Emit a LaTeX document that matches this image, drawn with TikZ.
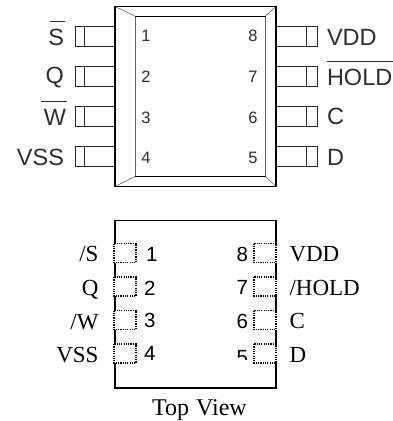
\documentclass[tikz,border=0pt]{standalone}
\usepackage{fontspec}
\setmainfont{Liberation Serif}
\newfontfamily\pinsans{Liberation Sans}
\definecolor{inkgray}{gray}{0.18}
\tikzset{
  lab/.style={inner sep=0pt,outer sep=0pt,text=inkgray,font=\pinsans\fontsize{23.5}{24}\selectfont},
  pinnum/.style={inner sep=0pt,outer sep=0pt,text=inkgray,font=\pinsans\fontsize{16.5}{18}\selectfont},
  serlab/.style={inner sep=0pt,outer sep=0pt,text=black,font=\fontsize{23}{24}\selectfont},
  botnum/.style={inner sep=0pt,outer sep=0pt,text=black,font=\pinsans\fontsize{20.5}{22}\selectfont},
  pinbox/.style={draw=black!85,line width=0.8pt},
  bodyline/.style={draw=black,line width=1.5pt},
  innerdark/.style={draw=black,line width=1pt},
  innergray/.style={draw=black!60,line width=1pt},
  bevel/.style={draw=black!65,line width=0.5pt},
  over/.style={draw=inkgray,line width=1pt},
  dotbox/.style={draw=black,line width=1.2pt,dash pattern=on 1.2pt off 1.1pt},
  chipbody/.style={draw=black,line width=1.5pt}
}
\begin{document}
\begin{tikzpicture}[x=1pt,y=-1pt]
\useasboundingbox[fill=white] (0,0) rectangle (393,421);
% top package pins
\foreach \y in {26.5,66.5,106.5,146.5}{
  \draw[pinbox] (115,\y) -- (75,\y) -- (75,\y+19.5) -- (115,\y+19.5);
  \draw[pinbox] (84.5,\y) -- (84.5,\y+19.5);
  \draw[pinbox] (276,\y) -- (317,\y) -- (317,\y+19.5) -- (276,\y+19.5);
  \draw[pinbox] (306,\y) -- (306,\y+19.5);
}
% package body
\coordinate (oa) at (115,6.5); \coordinate (ob) at (276,6.5);
\coordinate (oc) at (276,186.5); \coordinate (od) at (115,186.5);
\coordinate (ia) at (135,16); \coordinate (ib) at (265.5,16);
\coordinate (ic) at (265.5,176.5); \coordinate (id) at (135,176.5);
\draw[bevel] (oa)--(ia) (ob)--(ib) (oc)--(ic) (od)--(id);
\draw[innergray] (ia)--(id) (ib)--(ic);
\draw[innerdark] (ia)--(ib) (id)--(ic);
\draw[bodyline] (oa) rectangle (oc);
% top labels
\node[lab,anchor=base east] (ls) at (64,45.5) {S};
\node[lab,anchor=base east] (lq) at (64,83.5) {Q};
\node[lab,anchor=base east] (lw) at (66,125.5) {W};
\node[lab,anchor=base east] (lv) at (64,165) {VSS};
\node[lab,anchor=base west] (rv) at (327,45.5) {VDD};
\node[lab,anchor=base west] (rh) at (327,85.5) {HOLD};
\node[lab,anchor=base west] (rc) at (327,124) {C};
\node[lab,anchor=base west] (rd) at (327,165.5) {D};
\draw[over] (50,21) -- (65,21);
\draw[over] (41,101) -- (67,101);
\draw[over] (327,61) -- (393,61);
\node[pinnum,anchor=base] (n1) at (146,41) {1};
\node[pinnum,anchor=base] (n2) at (146,82) {2};
\node[pinnum,anchor=base] (n3) at (146,123.5) {3};
\node[pinnum,anchor=base] (n4) at (146,163.5) {4};
\node[pinnum,anchor=base] (n8) at (253,41) {8};
\node[pinnum,anchor=base] (n7) at (253,82) {7};
\node[pinnum,anchor=base] (n6) at (253,123) {6};
\node[pinnum,anchor=base] (n5) at (253,163) {5};
% bottom package
\draw[chipbody] (115,220.5) rectangle (276,388);
\foreach \y/\h in {243.5/19,277/19,310.5/19,344/19}{
  \fill[white] (114,\y) rectangle (136,\y+\h);
  \fill[white] (254,\y) rectangle (276.8,\y+\h);
  \draw[dotbox] (114,\y) rectangle (136,\y+\h);
  \draw[dotbox] (254,\y) rectangle (276,\y+\h);
}
\node[serlab,anchor=base east] (bs) at (98.5,261.5) {/S};
\node[serlab,anchor=base east] (bq) at (98.5,295) {Q};
\node[serlab,anchor=base east] (bw) at (98.5,329) {/W};
\node[serlab,anchor=base east] (bv) at (98.5,362.5) {VSS};
\node[serlab,anchor=base west] (bd1) at (289.5,261) {VDD};
\node[serlab,anchor=base west] (bh) at (289.5,295) {/HOLD};
\node[serlab,anchor=base west] (bc) at (289.5,328.5) {C};
\node[serlab,anchor=base west] (bd) at (289.5,362) {D};
\node[botnum,anchor=base west] (m1) at (146,261) {1};
\node[botnum,anchor=base west] (m2) at (144,295) {2};
\node[botnum,anchor=base west] (m3) at (144,327.5) {3};
\node[botnum,anchor=base west] (m4) at (144,360) {4};
\node[botnum,anchor=base east] (m8) at (248,261) {8};
\node[botnum,anchor=base east] (m7) at (248,294) {7};
\node[botnum,anchor=base east] (m6) at (248,328) {6};
\begin{scope}
\clip (230,340) rectangle (253,359);
\node[botnum,anchor=base east] (m5) at (248,364) {5};
\end{scope}
\node[serlab,anchor=base,font=\fontsize{24}{25}\selectfont,text=black] (tv) at (199.5,415) {Top\hspace{7pt}View};
\end{tikzpicture}
\end{document}
